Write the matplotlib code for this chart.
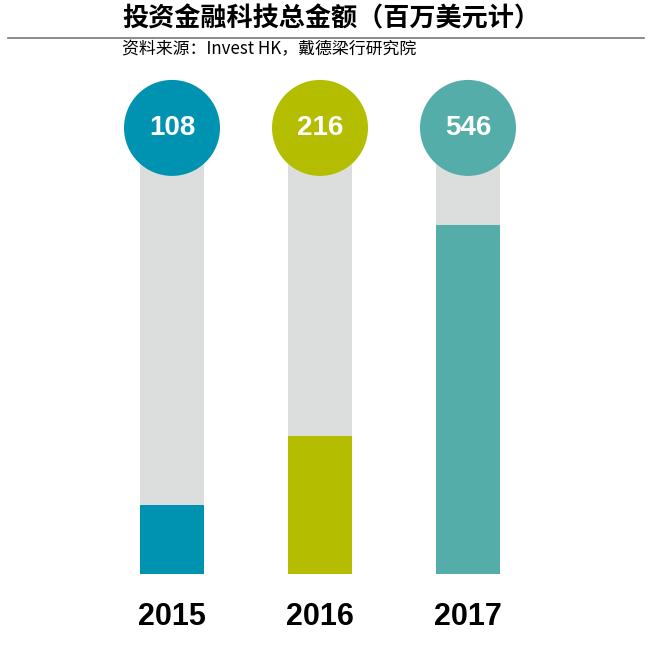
import matplotlib.pyplot as plt

plt.rcParams['font.family'] = ['Noto Sans CJK SC', 'DejaVu Sans']

# data
years = ['2015', '2016', '2017']
amounts = [108, 216, 546]
labels = ['108', '216', '546']
colors = ['#0092b1', '#b5bd00', '#55adaa']
track_top = 697   # grey track height (value units)
grey = '#dcdddd'

title = '投资金融科技总金额（百万美元计）'
source = '资料来源：Invest HK，戴德梁行研究院'

fig = plt.figure(figsize=(6.5, 6.54), dpi=100)

# axes placed so 1 value unit ~ 0.64 px
ax = fig.add_axes([98/650, (654-574)/654, 444/650, 494/654])
ax.set_xlim(-0.5, 2.5)
ax.set_ylim(0, 494/0.64)
ax.axis('off')

x = range(len(years))
ax.bar(x, [track_top]*3, width=0.432, color=grey, zorder=1)
ax.bar(x, amounts, width=0.432, color=colors, zorder=2)
ax.scatter(x, [track_top]*3, s=(96*0.72)**2, c=colors, zorder=3, linewidths=0, clip_on=False)
for i, lab in enumerate(labels):
    ax.text(i, track_top, lab, ha='center', va='center', color='white',
            fontsize=20, fontweight='bold', family='Liberation Sans', zorder=4)
    ax.text(i, -43/0.64, years[i], ha='center', va='center', color='black',
            fontsize=22, fontweight='bold', family='Liberation Sans', clip_on=False)

fig.text(122/650, 1-19/654, title, ha='left', va='center', fontsize=18.8, fontweight='bold')
fig.add_artist(plt.Line2D([8/650, 644/650], [1-38/654, 1-38/654], color='#777777', linewidth=1.2))
fig.text(122/650, 1-49/654, source, ha='left', va='center', fontsize=12.2)

fig.savefig('out.png', dpi=100)
